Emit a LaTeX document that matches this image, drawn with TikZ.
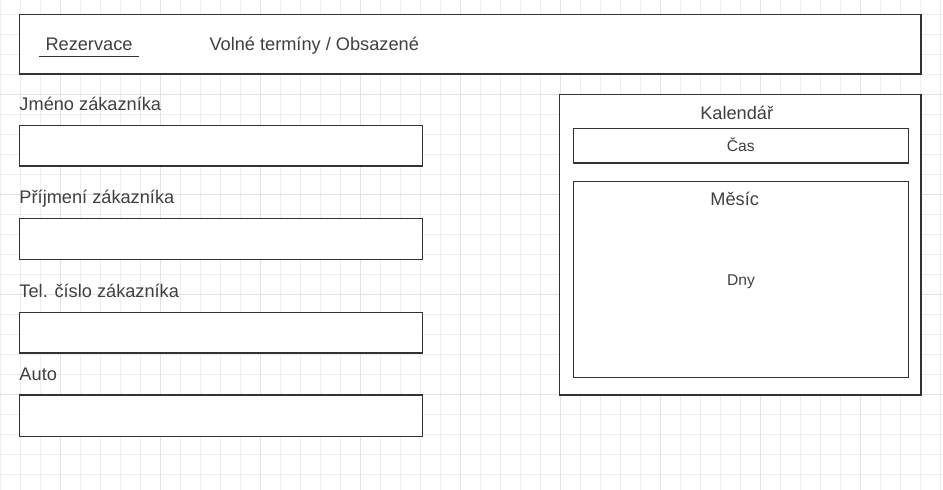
\documentclass[tikz,border=0pt]{standalone}
\usepackage{fontspec}
\setmainfont{Liberation Sans}
\definecolor{gridminor}{HTML}{EEEEEE}
\definecolor{gridmajor}{HTML}{E2E2E2}
\definecolor{boxline}{HTML}{333333}
\definecolor{txt}{HTML}{404040}
\tikzset{
  box/.style={draw=boxline, line width=1.2pt, fill=white},
  bigtxt/.style={text=txt, font=\fontsize{18.2}{20}\selectfont, inner sep=0pt},
  smalltxt/.style={text=txt, font=\fontsize{15.6}{18}\selectfont, inner sep=0pt},
}
\begin{document}
\begin{tikzpicture}[x=1pt,y=-1pt]
\useasboundingbox (0,0) rectangle (943,490);
\fill[white] (0,0) rectangle (943,490);
% grid
\foreach \i in {0,...,47} {
  \draw[gridminor, line width=1pt] ({0.7+20*\i},0) -- ({0.7+20*\i},490);
}
\foreach \j in {0,...,24} {
  \draw[gridminor, line width=1pt] (0,{14.7+20*\j}) -- (943,{14.7+20*\j});
}
\foreach \i in {0,...,8} {
  \draw[gridmajor, line width=1pt] ({60.7+100*\i},0) -- ({60.7+100*\i},490);
}
\foreach \j in {0,...,4} {
  \draw[gridmajor, line width=1pt] (0,{94.7+100*\j}) -- (943,{94.7+100*\j});
}
% top bar
\draw[box] (19.3,14.7) rectangle (921,74);
\node[bigtxt, anchor=base] (rez) at (89,50) {Rezervace};
\coordinate (ulL) at (39,56.3);
\coordinate (ulR) at (138.7,56.3);
\draw[boxline, line width=1.2pt] (ulL) -- (ulR);
\node[bigtxt, anchor=base west] (volne) at (209.3,50) {Volné termíny / Obsazené};
% form fields
\node[bigtxt, anchor=base west] (l1) at (19.3,110) {Jméno zákazníka};
\draw[box] (19.3,125.7) rectangle (422.5,166);
\node[bigtxt, anchor=base west] (l2) at (19.3,203.3) {Příjmení zákazníka};
\draw[box] (19.3,218.7) rectangle (422.5,259.3);
\node[bigtxt, anchor=base west] (l3) at (19.3,297.3) {Tel. číslo zákazníka};
\draw[box] (19.3,312.3) rectangle (422.5,353);
\node[bigtxt, anchor=base west] (l4) at (19.3,380) {Auto};
\draw[box] (19.3,395) rectangle (422.5,436.3);
% calendar
\draw[box] (559.3,94.7) rectangle (921,395);
\node[bigtxt, anchor=base] (kal) at (736.7,119.3) {Kalendář};
\draw[box] (573.3,128.3) rectangle (908.3,163);
\node[smalltxt, anchor=base] (cas) at (740.8,151) {Čas};
\draw[box] (573.3,181.3) rectangle (908.3,377.3);
\node[bigtxt, anchor=base] (mes) at (734.7,205.7) {Měsíc};
\node[smalltxt, anchor=base] (dny) at (741,285) {Dny};
\end{tikzpicture}
\end{document}
